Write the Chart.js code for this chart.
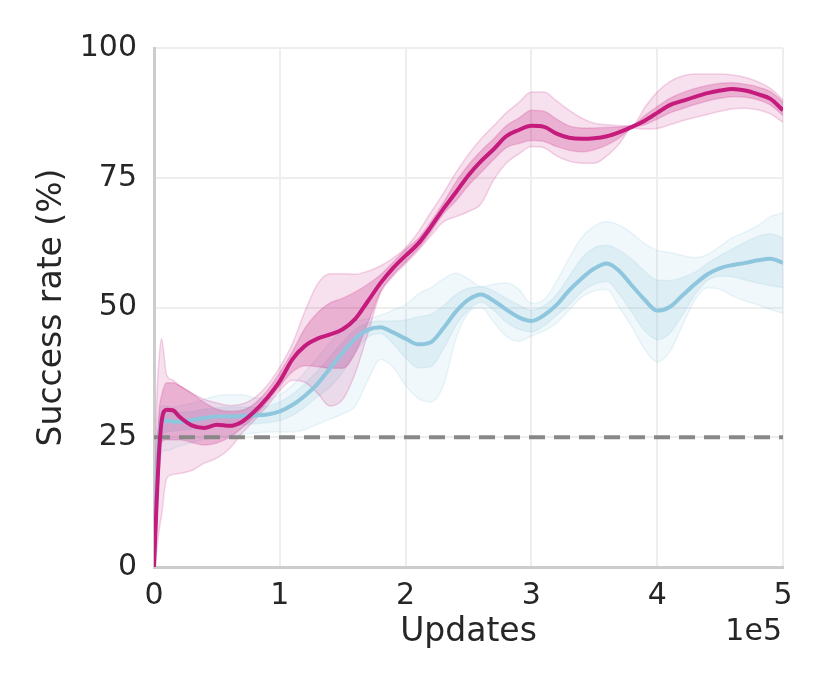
<!DOCTYPE html>
<html>
<head>
<meta charset="utf-8">
<script src="https://cdn.jsdelivr.net/npm/chart.js@4"></script>
<style>
  html, body { margin: 0; padding: 0; background: #ffffff; }
  #wrap { width: 830px; height: 692px; }
</style>
</head>
<body>
<div id="wrap"><canvas id="successChart"></canvas></div>
<script>
// updates, in units of 1e5
const updates = [0, 0.02, 0.04, 0.06, 0.1, 0.15, 0.2, 0.3, 0.4, 0.5, 0.6, 0.7, 0.8, 0.9,
  1.0, 1.1, 1.2, 1.3, 1.4, 1.5, 1.6, 1.7, 1.8, 1.9, 2.0, 2.1, 2.2, 2.3, 2.4, 2.5, 2.6, 2.7, 2.8, 2.9,
  3.0, 3.1, 3.2, 3.3, 3.4, 3.5, 3.6, 3.7, 3.8, 3.9, 4.0, 4.1, 4.2, 4.3, 4.4, 4.5, 4.6, 4.7, 4.8, 4.9, 5.0];

// magenta run: mean, inner band, outer band
const pinkMean = [0, 12, 22, 28, 30.3, 30.2, 29, 27.3, 26.8, 27.4, 27.2, 28, 30, 32.6,
  35.8, 40, 42.6, 44, 44.8, 45.8, 47.8, 51.2, 54.7, 57.6, 60, 62.3, 65.5, 69, 72.2, 75.5, 78.2, 80.5, 83, 84.2,
  85, 84.8, 83.5, 82.7, 82.5, 82.6, 83, 83.8, 84.8, 86, 87.5, 89, 89.8, 90.6, 91.3, 91.8, 92.1, 91.8, 91.1, 90.2, 88];
const pinkInnerHi = [0, 20, 30, 33, 35.5, 35.5, 35, 33.5, 31.7, 30.4, 30, 30.2, 31.5, 34,
  37.5, 41.5, 46, 49, 50.9, 51.8, 53, 54.5, 56.3, 58.7, 61.2, 63.3, 66.5, 70.2, 74.2, 77.5, 80.2, 82.5, 85, 86.5,
  88, 87.8, 86.3, 85, 84.6, 84.6, 84.7, 84.8, 85, 87, 88.7, 90.3, 91.4, 92.2, 92.8, 93.2, 93.3, 93, 92.5, 91.6, 89.6];
const pinkInnerLo = [0, 8, 18, 24, 24.5, 24.5, 24.5, 24, 23.5, 23.9, 25, 26.8, 29, 31.8,
  34.8, 37.6, 38.8, 38.6, 38.3, 38.3, 41.2, 47, 53, 56.3, 58.8, 61.3, 64.5, 68, 70.5, 73.5, 76, 78.5, 80.8, 81.6,
  82.2, 82, 81, 80.3, 80, 80.4, 81.3, 82.7, 84.6, 85.2, 86.3, 87.5, 88.3, 89.1, 89.8, 90.3, 90.6, 90.5, 90, 89, 87];
const pinkOuterHi = [0, 30, 40, 44, 37, 36, 35, 33.5, 32.3, 31.6, 31.1, 31.4, 32.6, 35,
  38.5, 43, 49.3, 54.5, 56.5, 56.5, 56.4, 57, 58, 59.5, 61.5, 64.5, 68.3, 72, 76, 79.5, 82.5, 85, 87.5, 89.5,
  91.5, 91.5, 89.8, 88, 86.5, 85.5, 85.2, 85, 85, 88.5, 91.5, 93.5, 94.6, 95, 95, 95, 94.8, 94.3, 93.5, 92.2, 90];
const pinkOuterLo = [0, 3, 7, 10, 17, 17.8, 18, 18.6, 20, 21, 22.8, 25.8, 28.3, 31,
  34, 36, 35.6, 33.5, 31, 32.3, 37.4, 45, 52.8, 56, 58.5, 61, 63.8, 66.5, 67.5, 68.5, 70, 74.6, 77.8, 79.6,
  81, 80.8, 79.2, 78.2, 77.8, 77.8, 79.2, 81.6, 84.6, 84.4, 84.5, 85.2, 86, 86.6, 87.2, 87.8, 88.3, 88.4, 88.1, 87.3, 85.7];

// blue run: mean, inner band, outer band
const blueMean = [0, 15, 25, 28, 28.2, 28, 28, 28.3, 28.7, 29, 29, 29.1, 29.2, 29.4,
  30, 31.2, 33, 35.3, 38.3, 41.3, 44, 45.7, 46.2, 45.2, 44, 42.9, 43.3, 46, 49.2, 51.5, 52.5, 51.3, 49.6, 48.1,
  47.4, 48.5, 50.5, 53.3, 55.6, 57.5, 58.5, 57, 54.2, 51.5, 49.4, 50.1, 52.3, 54.5, 56.4, 57.6, 58.2, 58.6, 59.1, 59.4, 58.6];
const blueInnerHi = [0, 17, 27, 30, 30, 29.8, 29.8, 30, 30.4, 30.7, 30.8, 30.8, 30.8, 31,
  31.8, 33.3, 35.3, 37.8, 40.5, 43.3, 45.8, 47, 47.4, 47.4, 47.6, 48.2, 48.7, 50.3, 52.5, 53.7, 54, 53.2, 51.8, 50.5,
  49.5, 50.3, 52.5, 56, 59.5, 61.5, 62, 61, 59.3, 57, 55.3, 55.2, 55.8, 56.8, 58.5, 60, 61.3, 62.6, 63.7, 64.2, 63.4];
const blueInnerLo = [0, 13, 22, 25.5, 26, 26.2, 26.3, 26.6, 27, 27.3, 27.3, 27.4, 27.6, 27.8,
  28.2, 29.2, 30.8, 32.8, 34.7, 37.5, 41.5, 44.3, 45, 43, 40.3, 38.4, 38.6, 42, 46.5, 49.5, 51, 49.5, 47.2, 45.8,
  45.3, 46.5, 48.5, 50.5, 53, 54.5, 55, 52.5, 49, 45.5, 43.8, 45, 48.5, 52.5, 55.2, 56, 55.9, 55.3, 54.7, 54.2, 53.8];
const blueOuterHi = [0, 20, 29, 31, 31, 30.8, 31, 31.5, 32.3, 33, 33.2, 33.2, 32.6, 32.4,
  33.2, 35, 37.5, 40.3, 43.2, 45.7, 47.3, 47.8, 48.5, 49.5, 50.5, 52.6, 53.8, 55.5, 56.6, 55.5, 54, 54.5, 54.7, 53.5,
  50.8, 51.5, 55, 59.5, 63.5, 65.7, 66.5, 65.8, 64.3, 62.3, 61, 60.6, 60, 59.6, 60.2, 61.8, 63.5, 64.5, 65.8, 67.5, 68.2];
const blueOuterLo = [0, 10, 18, 22, 22.5, 22.8, 23.3, 24, 24.6, 25, 25.3, 25.6, 25.8, 26,
  26, 26, 26.5, 27.5, 28.5, 29.5, 31, 36, 40, 38.5, 35, 32.5, 31.8, 35, 44, 49, 50, 47.2, 44.5, 43.5,
  44.5, 45.5, 47, 49.5, 52, 53.2, 53.5, 50, 46.2, 42, 39.5, 41.5, 46.5, 51.5, 53.8, 53.5, 52.2, 51.3, 50.5, 49.6, 48.9];

const chanceLevel = 25;
const xTicks = [0, 1, 2, 3, 4, 5];
const yTicks = [0, 25, 50, 75, 100];

const PINK = "197, 27, 125";
const BLUE = "142, 198, 222";
const FONT = "DejaVu Sans";
const TEXT = "#262626";

function pts(values) {
  return values.map((v, i) => ({ x: updates[i], y: v }));
}

function line(values, rgb, width) {
  return {
    data: pts(values),
    borderColor: "rgb(" + rgb + ")",
    borderWidth: width,
    pointRadius: 0,
    fill: false,
    cubicInterpolationMode: "monotone"
  };
}

function bandTop(values, rgb, alpha) {
  return {
    data: pts(values),
    borderColor: "rgba(" + rgb + ", 0.18)",
    borderWidth: 1.5,
    pointRadius: 0,
    fill: "+1",
    backgroundColor: "rgba(" + rgb + ", " + alpha + ")",
    cubicInterpolationMode: "monotone"
  };
}

function bandBottom(values, rgb) {
  return {
    data: pts(values),
    borderColor: "rgba(" + rgb + ", 0.18)",
    borderWidth: 1.5,
    pointRadius: 0,
    fill: false,
    cubicInterpolationMode: "monotone"
  };
}

const unitLabel = {
  id: "unitLabel",
  afterDraw(chart) {
    const ctx = chart.ctx;
    ctx.save();
    ctx.font = "30px '" + FONT + "'";
    ctx.fillStyle = TEXT;
    ctx.textAlign = "right";
    ctx.textBaseline = "middle";
    ctx.fillText("1e5", chart.chartArea.right - 1, 632);
    ctx.restore();
  }
};

new Chart("successChart", {
  type: "line",
  data: {
    datasets: [
      line(pinkMean, PINK, 4),
      {
        data: [{ x: 0, y: chanceLevel }, { x: 5, y: chanceLevel }],
        borderColor: "#888888",
        borderWidth: 4,
        borderDash: [16, 9],
        pointRadius: 0,
        fill: false
      },
      line(blueMean, BLUE, 4),
      bandTop(pinkInnerHi, PINK, 0.24),
      bandBottom(pinkInnerLo, PINK),
      bandTop(pinkOuterHi, PINK, 0.13),
      bandBottom(pinkOuterLo, PINK),
      bandTop(blueInnerHi, BLUE, 0.19),
      bandBottom(blueInnerLo, BLUE),
      bandTop(blueOuterHi, BLUE, 0.12),
      bandBottom(blueOuterLo, BLUE)
    ]
  },
  options: {
    responsive: true,
    maintainAspectRatio: false,
    animation: false,
    layout: { padding: { top: 48, right: 47, left: 0, bottom: 0 } },
    plugins: {
      legend: { display: false },
      tooltip: { enabled: false }
    },
    scales: {
      x: {
        type: "linear",
        min: 0,
        max: 5,
        afterBuildTicks(scale) { scale.ticks = xTicks.map(v => ({ value: v })); },
        afterFit(scale) { scale.height = 125; },
        ticks: {
          padding: 11,
          font: { family: FONT, size: 30 },
          color: TEXT
        },
        grid: { color: "#eeeeee", lineWidth: 2, drawTicks: false },
        border: { color: "#cccccc", width: 3 },
        title: {
          display: true,
          text: "Updates",
          font: { family: FONT, size: 33 },
          color: TEXT,
          padding: { top: 0, bottom: 40 }
        }
      },
      y: {
        min: 0,
        max: 100,
        afterBuildTicks(scale) { scale.ticks = yTicks.map(v => ({ value: v })); },
        afterFit(scale) { scale.width = 154; },
        ticks: {
          padding: 17,
          font: { family: FONT, size: 30 },
          color: TEXT
        },
        grid: { color: "#eeeeee", lineWidth: 2, drawTicks: false },
        border: { color: "#cccccc", width: 3 },
        title: {
          display: true,
          text: "Success rate (%)",
          font: { family: FONT, size: 33 },
          color: TEXT,
          padding: { top: 33, bottom: 0 }
        }
      }
    }
  },
  plugins: [unitLabel]
});
</script>
</body>
</html>
